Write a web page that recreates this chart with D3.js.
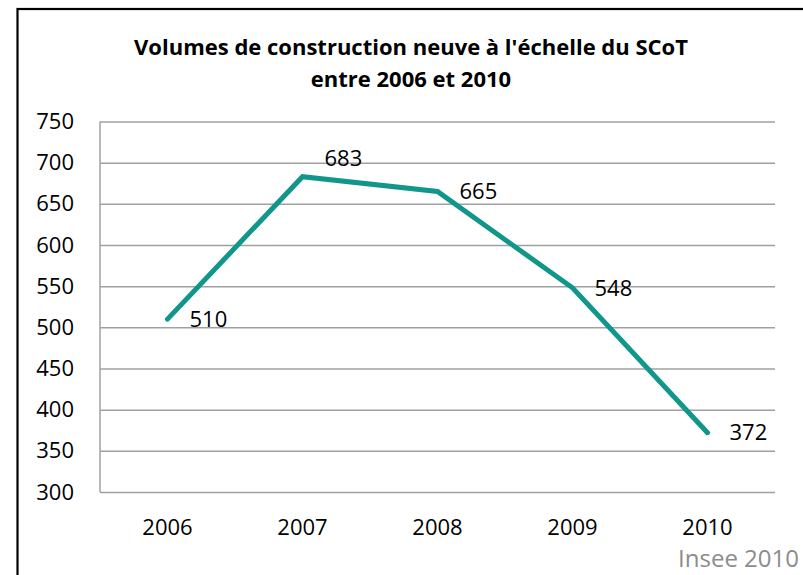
<!DOCTYPE html>
<html>
<head>
<meta charset="utf-8">
<script src="https://cdn.jsdelivr.net/npm/d3@7/dist/d3.min.js"></script>
<style>
  html, body { margin: 0; padding: 0; background: #fff; }
  svg { display: block; }
  text { font-family: "Open Sans", "DejaVu Sans", sans-serif; }
</style>
</head>
<body>
<svg id="chart" width="803" height="575"></svg>
<script>
const titleLines = ["Volumes de construction neuve à l'échelle du SCoT", "entre 2006 et 2010"];
const years = ["2006", "2007", "2008", "2009", "2010"];
const values = [510, 683, 665, 548, 372];
const yTicks = [300, 350, 400, 450, 500, 550, 600, 650, 700, 750];
const sourceText = "Insee 2010";

const svg = d3.select("#chart");
const plot = { left: 100, right: 775, top: 121.5, bottom: 492 };

// outer chart border
svg.append("rect")
  .attr("x", 17.5).attr("y", 9)
  .attr("width", 820).attr("height", 620)
  .attr("fill", "#fff").attr("stroke", "#000").attr("stroke-width", 2.2);

// title
const title = svg.append("text")
  .attr("text-anchor", "middle")
  .attr("font-weight", "bold")
  .attr("font-size", 22)
  .attr("fill", "#000");
titleLines.forEach((t, i) => {
  title.append("tspan").attr("x", 411).attr("y", 55 + i * 32).text(t);
});

const x = d3.scaleBand().domain(years).range([plot.left, plot.right]);
const y = d3.scaleLinear().domain([300, 750]).range([plot.bottom, plot.top]);

// gridlines
svg.append("g")
  .attr("transform", `translate(${plot.left},0)`)
  .call(d3.axisLeft(y).tickValues(yTicks).tickSize(-(plot.right - plot.left)).tickFormat(""))
  .call(g => g.select(".domain").remove())
  .call(g => g.selectAll(".tick line").attr("stroke", "#a0a0a0").attr("stroke-width", 1.5));

// y axis line
svg.append("line")
  .attr("x1", plot.left).attr("x2", plot.left)
  .attr("y1", plot.top).attr("y2", plot.bottom)
  .attr("stroke", "#a0a0a0").attr("stroke-width", 1.5);

// y tick labels
svg.append("g")
  .attr("transform", `translate(${plot.left},0)`)
  .call(d3.axisLeft(y).tickValues(yTicks).tickSize(0).tickPadding(26))
  .call(g => g.select(".domain").remove())
  .call(g => g.selectAll("text").attr("font-size", 22).attr("fill", "#000")
      .attr("font-family", "'Open Sans', sans-serif"));

// x tick labels
svg.append("g")
  .attr("transform", `translate(0,${plot.bottom})`)
  .call(d3.axisBottom(x).tickSize(0).tickPadding(27))
  .call(g => g.select(".domain").remove())
  .call(g => g.selectAll("text").attr("font-size", 22).attr("fill", "#000")
      .attr("font-family", "'Open Sans', sans-serif"));

// line
const data = years.map((yr, i) => ({ yr, v: values[i] }));
const line = d3.line()
  .x(d => x(d.yr) + x.bandwidth() / 2)
  .y(d => y(d.v));
svg.append("path")
  .datum(data)
  .attr("d", line)
  .attr("fill", "none")
  .attr("stroke", "#10968a")
  .attr("stroke-width", 5)
  .attr("stroke-linejoin", "miter")
  .attr("stroke-linecap", "round");

// data labels
const labelShift = { "2007": -18 };
svg.append("g")
  .selectAll("text")
  .data(data)
  .join("text")
  .attr("x", d => x(d.yr) + x.bandwidth() / 2 + 22)
  .attr("y", d => y(d.v) + (labelShift[d.yr] || 0))
  .attr("dy", "0.35em")
  .attr("font-size", 22)
  .attr("fill", "#000")
  .text(d => d.v);

// source
svg.append("text")
  .attr("x", 799).attr("y", 567)
  .attr("text-anchor", "end")
  .attr("font-size", 24)
  .attr("fill", "#8c8c8c")
  .text(sourceText);
</script>
</body>
</html>
